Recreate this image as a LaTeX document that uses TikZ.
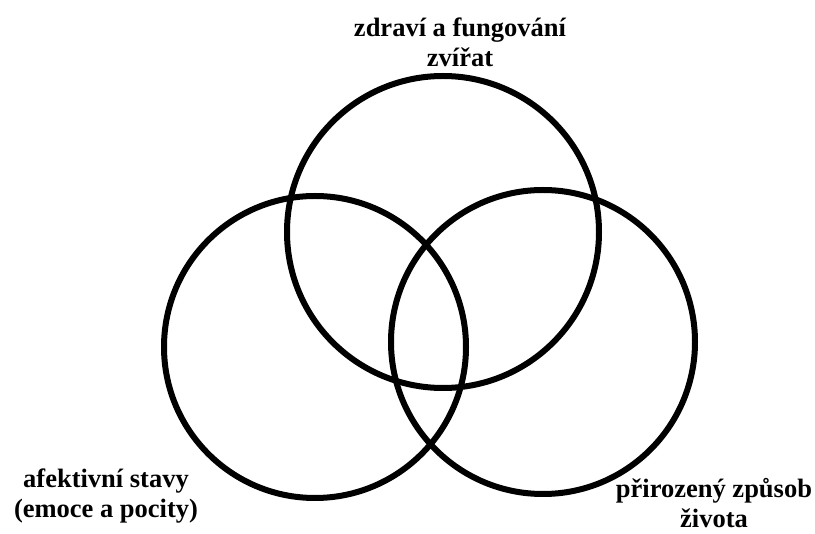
\documentclass[tikz,border=0pt]{standalone}
\usepackage{fontspec}
\setmainfont{Liberation Serif}
\usepackage{tikz}
\usetikzlibrary{positioning}
\tikzset{
  ring/.style={draw=black, circle, line width=6pt, inner sep=0pt},
  lbl/.style={align=center, font=\fontsize{26.5}{30}\selectfont\bfseries, inner sep=0pt, anchor=base}
}
\begin{document}
\begin{tikzpicture}[x=1pt, y=-1pt]
  \useasboundingbox (0,0) rectangle (815,534);
  % the three circles
  \node[ring, minimum size=312pt] (health) at (443,232) {};
  \node[ring, minimum size=302pt] (affect) at (315,347) {};
  \node[ring, minimum size=304pt] (nature) at (543,342) {};
  % labels
  \node[lbl] (healthlbl) at (460,67) {zdraví a fungování\\zvířat};
  \node[lbl] (affectlbl) at (106,518) {afektivní stavy\\(emoce a pocity)};
  \node[lbl] (naturelbl) at (714,528) {přirozený způsob\\života};
\end{tikzpicture}
\end{document}
